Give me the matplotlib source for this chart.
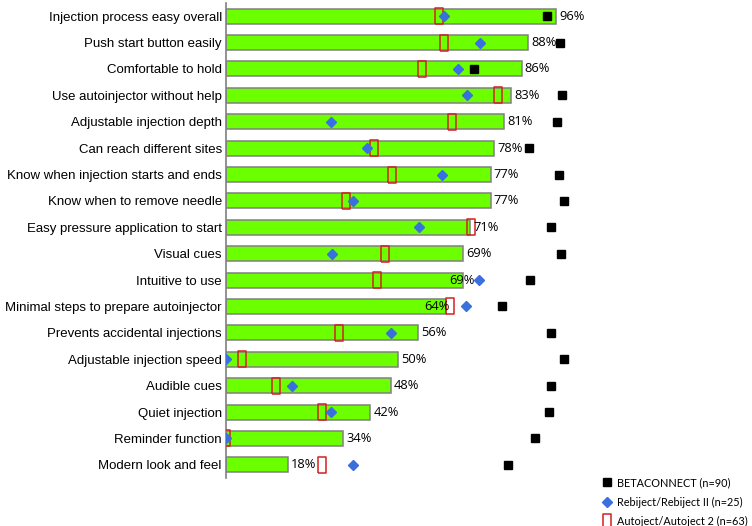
import numpy as np
import matplotlib
matplotlib.use("Agg")
import matplotlib.pyplot as plt
from matplotlib.lines import Line2D

# Attributes (top to bottom) and overall % agreement
attributes = [
    "Injection process easy overall", "Push start button easily", "Comfortable to hold",
    "Use autoinjector without help", "Adjustable injection depth", "Can reach different sites",
    "Know when injection starts and ends", "Know when to remove needle",
    "Easy pressure application to start", "Visual cues", "Intuitive to use",
    "Minimal steps to prepare autoinjector", "Prevents accidental injections",
    "Adjustable injection speed", "Audible cues", "Quiet injection",
    "Reminder function", "Modern look and feel",
]
overall = [96, 88, 86, 83, 81, 78, 77, 77, 71, 69, 69, 64, 56, 50, 48, 42, 34, 18]

# per-device values
betaconnect = [93.4, 97.2, 72.1, 97.7, 96.2, 88.2, 96.8, 98.4, 94.6, 97.6,
               88.5, 80.2, 94.5, 98.3, 94.6, 93.9, 89.8, 82.1]
rebiject = [63.3, 73.9, 67.5, 70.0, 30.5, 40.9, 62.9, 36.9, 56.1, 30.8,
            73.6, 69.9, 48.1, 0.0, 19.1, 30.5, 0.0, 36.9]
autoject = [62.0, 63.4, 57.0, 79.2, 65.7, 43.2, 48.3, 34.8, 71.2, 46.2,
            44.0, 65.3, 32.9, 4.8, 14.5, 28.0, 0.0, 28.0]

legend_labels = ["BETACONNECT (n=90)", "Rebiject/Rebiject II (n=25)", "Autoject/Autoject 2 (n=63)"]

fig = plt.figure(figsize=(7.52, 5.26), dpi=100)
ax = fig.add_axes([226 / 752, 1 - 478 / 526, (590 - 226) / 752, 475 / 526])

y = np.arange(len(attributes))
ax.barh(y, overall, height=0.57, color="#6CFF00", edgecolor="#808080", linewidth=1.1, zorder=1)

# tall hollow rectangle marker for Autoject
rect = [(-0.23, -0.5), (0.23, -0.5), (0.23, 0.5), (-0.23, 0.5), (-0.23, -0.5)]
ax.plot(autoject, y, linestyle="none", marker=rect, ms=11, mfc="none", mec="#D42020", mew=1.1, zorder=3)
ax.plot(rebiject, y, linestyle="none", marker="D", ms=4.6, color="#3A6FE0", zorder=4)
ax.plot(betaconnect, y, linestyle="none", marker="s", ms=5.6, color="black", zorder=4)

# value labels; two of them sit over the bar end in the original
nudge = {10: -12.5, 11: -18}
for i, v in enumerate(overall):
    ax.annotate(f"{v}%", (v, i), xytext=(2.3 + nudge.get(i, 0), 0), textcoords="offset points",
                va="center", ha="left", fontsize=9.3, family="Open Sans", zorder=5)

ax.set_xlim(0, 105.9)
ax.set_ylim(len(attributes) - 0.5, -0.5)
ax.set_yticks(y)
ax.set_yticklabels(attributes, fontsize=9.5, family="Liberation Sans")
ax.tick_params(axis="y", length=0, pad=3)
ax.set_xticks([])
for s in ["top", "right", "bottom"]:
    ax.spines[s].set_visible(False)
ax.spines["left"].set_color("#808080")
ax.spines["left"].set_linewidth(1.2)

handles = [
    Line2D([], [], linestyle="none", marker="s", ms=5.6, color="black"),
    Line2D([], [], linestyle="none", marker="D", ms=4.6, color="#3A6FE0"),
    Line2D([], [], linestyle="none", marker=rect, ms=11, mfc="none", mec="#D42020", mew=1.1),
]
fig.legend(handles, legend_labels, loc="upper left", bbox_to_anchor=(601 / 752, 1 - 477 / 526),
           frameon=False, prop={"family": "Lato", "size": 7.8}, handletextpad=0.42,
           labelspacing=0.8, handlelength=1.05, borderaxespad=0, borderpad=0)

fig.savefig("out.png", dpi=100)
